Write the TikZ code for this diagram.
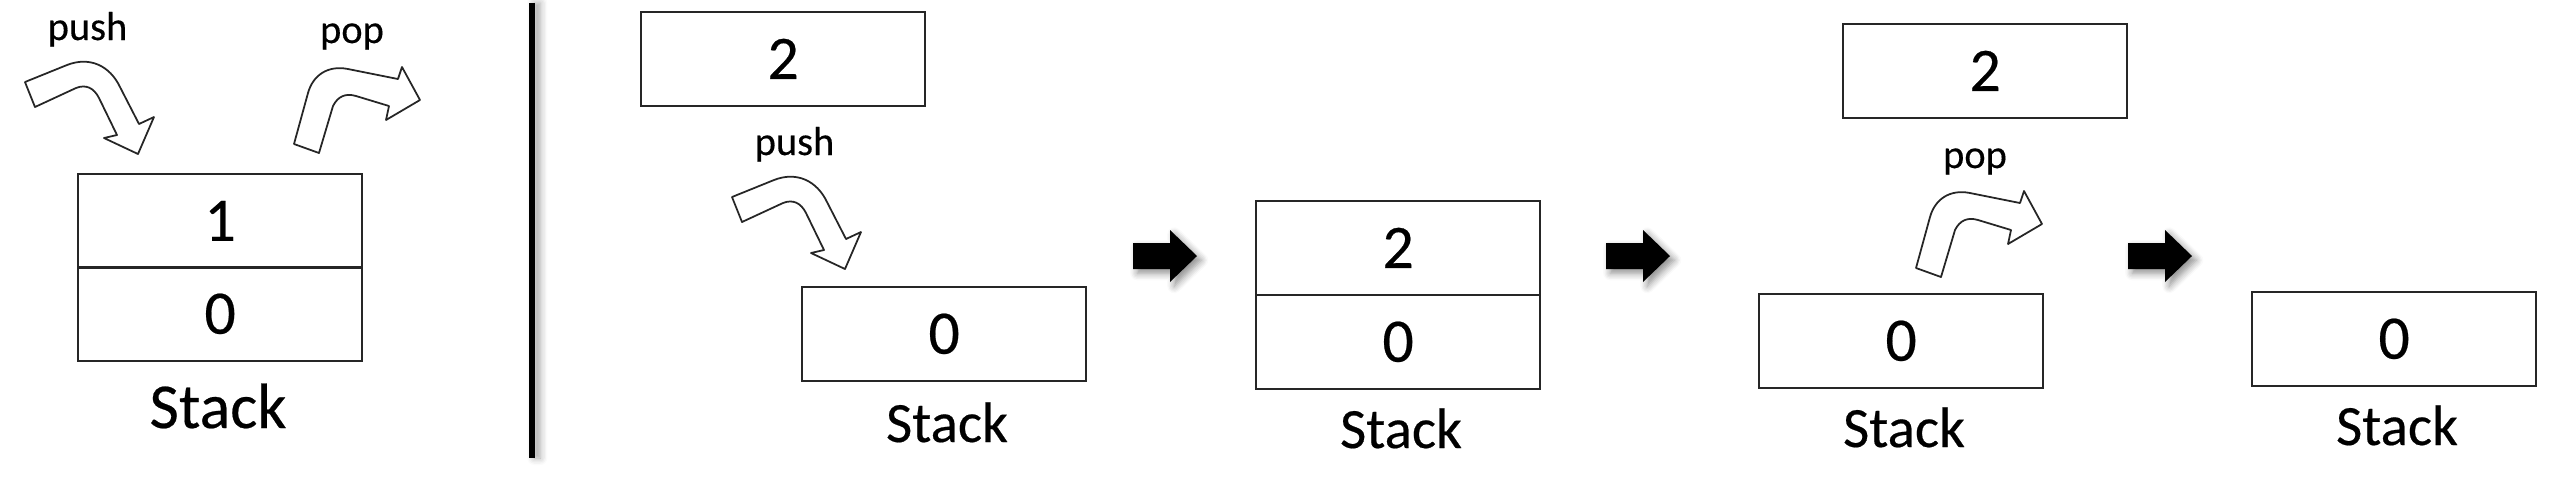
\documentclass[tikz,border=0pt]{standalone}
\usepackage{fontspec}
\setmainfont{Carlito}[FakeBold=0.35]
\usetikzlibrary{shadows.blur}
\begin{document}
\begin{tikzpicture}[x=0.01cm,y=-0.01cm,
  cell/.style={draw=black!85, line width=0.6pt, minimum width=2.84cm, minimum height=0.935cm,
    inner sep=0pt, anchor=north west, font=\fontsize{17.6}{20}\selectfont},
  caption/.style={anchor=base, inner sep=0pt, font=\fontsize{16.2}{19}\selectfont},
  bigcaption/.style={anchor=base, inner sep=0pt, font=\fontsize{18.2}{21}\selectfont},
  oplabel/.style={anchor=base, inner sep=0pt, font=\fontsize{11.5}{13}\selectfont},
  hollow/.style={draw=black!85, line width=0.5pt, fill=white, line join=round},
  blockarrow/.style={fill=black, blur shadow={shadow xshift=1.2pt, shadow yshift=-1.2pt,
    shadow blur steps=6, shadow blur radius=2pt, shadow opacity=45}}
]
\useasboundingbox (0,0) rectangle (2572,490);

% ---------- left panel ----------
\node[oplabel] (pushA) at (87.5,40) {push};
\node[oplabel] (popA) at (352,43) {pop};
\draw[hollow, shift={(138,154)}]
  (-113,-72) -- (-71,-89) .. controls (-48,-98) and (-28,-88) .. (-18,-67)
  -- (1,-30) -- (16,-37) -- (0,0) -- (-34,-16) -- (-21,-19)
  -- (-39,-56) .. controls (-44,-66) and (-52,-70) .. (-62,-66) -- (-103,-47) -- cycle;
\draw[hollow, shift={(420,100)}]
  (-126,44) -- (-112,-7) .. controls (-107,-25) and (-92,-35) .. (-72,-31)
  -- (-22,-21) -- (-18,-33) -- (0,0) -- (-34,20) -- (-31,6)
  -- (-64,-4) .. controls (-74,-7) and (-82,-4) .. (-87,6) -- (-101,53) -- cycle;
\node[cell] (l1) at (77,173) {1};
\node[cell] (l0) at (77,266) {0};
\node[bigcaption] (stA) at (218,428) {Stack};

% separator
\fill[blur shadow={shadow xshift=1.5pt, shadow yshift=0pt, shadow blur steps=6,
  shadow blur radius=2pt, shadow opacity=35}] (529,3) rectangle (535,458);

% ---------- push sequence ----------
\node[cell] (p2) at (640,11) {2};
\node[oplabel] (pushB) at (794.5,155) {push};
\draw[hollow, shift={(845,269)}]
  (-113,-72) -- (-71,-89) .. controls (-48,-98) and (-28,-88) .. (-18,-67)
  -- (1,-30) -- (16,-37) -- (0,0) -- (-34,-16) -- (-21,-19)
  -- (-39,-56) .. controls (-44,-66) and (-52,-70) .. (-62,-66) -- (-103,-47) -- cycle;
\node[cell] (s2) at (801,286) {0};
\node[caption] (stB) at (947,442) {Stack};

\fill[blockarrow, shift={(1197,256)}]
  (-64,-13) -- (-27,-13) -- (-27,-26) -- (0,0) -- (-27,26) -- (-27,13) -- (-64,13) -- cycle;

\node[cell] (m2) at (1255,200) {2};
\node[cell] (m0) at (1255,294) {0};
\node[caption] (stC) at (1401,448) {Stack};

\fill[blockarrow, shift={(1670,256)}]
  (-64,-13) -- (-27,-13) -- (-27,-26) -- (0,0) -- (-27,26) -- (-27,13) -- (-64,13) -- cycle;

% ---------- pop sequence ----------
\node[cell] (q2) at (1842,23) {2};
\node[oplabel] (popB) at (1975,168) {pop};
\draw[hollow, shift={(2042,224)}]
  (-126,44) -- (-112,-7) .. controls (-107,-25) and (-92,-35) .. (-72,-31)
  -- (-22,-21) -- (-18,-33) -- (0,0) -- (-34,20) -- (-31,6)
  -- (-64,-4) .. controls (-74,-7) and (-82,-4) .. (-87,6) -- (-101,53) -- cycle;
\node[cell] (s4) at (1758,293) {0};
\node[caption] (stD) at (1904,447) {Stack};

\fill[blockarrow, shift={(2192,256)}]
  (-64,-13) -- (-27,-13) -- (-27,-26) -- (0,0) -- (-27,26) -- (-27,13) -- (-64,13) -- cycle;

\node[cell] (s5) at (2251,291) {0};
\node[caption] (stE) at (2397,445) {Stack};
\end{tikzpicture}
\end{document}
